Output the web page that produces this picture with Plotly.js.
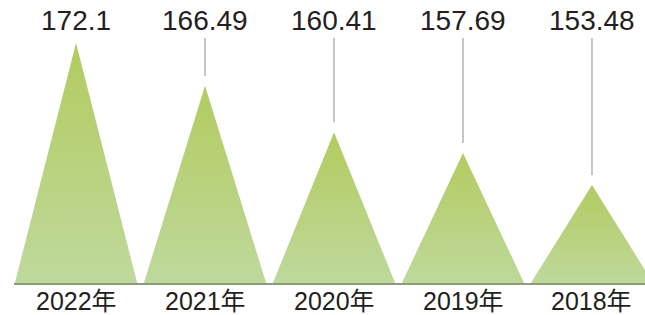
<!DOCTYPE html>
<html>
<head>
<meta charset="utf-8">
<script src="https://cdn.plot.ly/plotly-3.0.1.min.js"></script>
<style>html,body{margin:0;padding:0;background:#fff;}#chart{width:645px;height:315px;}</style>
</head>
<body>
<div id="chart"></div>
<script>
const categories = ["2022年", "2021年", "2020年", "2019年", "2018年"];
const values = [172.1, 166.49, 160.41, 157.69, 153.48];
const valueLabels = ["172.1", "166.49", "160.41", "157.69", "153.48"];

const yMin = 140.63, yMax = 177.74;
const halfW = 0.474;
const font = "Liberation Sans, Arial, 'Noto Sans CJK SC', sans-serif";
const plotH = 283;

const traces = [];
values.forEach((v, i) => {
  traces.push({
    type: "scatter", mode: "lines",
    x: [i - halfW, i, i + halfW, i - halfW],
    y: [yMin, v, yMin, yMin],
    fill: "toself",
    fillgradient: {type: "vertical", colorscale: [[0, "#bed99c"], [1, "#b3cb5f"]]},
    line: {width: 0, color: "rgba(0,0,0,0)"},
    hoverinfo: "skip", showlegend: false
  });
});
// leader lines (from label down toward peak)
const lineTop = yMax - 38 / 7.626;
values.forEach((v, i) => {
  if (v + 1.3 < lineTop) {
    traces.push({
      type: "scatter", mode: "lines",
      x: [i, i], y: [lineTop, v + 1.3],
      line: {width: 1, color: "#8c8c8c"},
      hoverinfo: "skip", showlegend: false
    });
  }
});

const annotations = values.map((v, i) => ({
  x: i, xref: "x", y: 1 - 20 / plotH, yref: "paper",
  text: valueLabels[i], showarrow: false,
  xanchor: "center", yanchor: "middle",
  font: {family: font, size: 28, color: "#231f20"}
})).concat(categories.map((c, i) => ({
  x: i, xref: "x", y: -18 / plotH, yref: "paper",
  text: c, showarrow: false,
  xanchor: "center", yanchor: "middle",
  font: {family: font, size: 25, color: "#231f20"}
})));

const layout = {
  width: 645, height: 315,
  margin: {l: 14, r: 0, t: 0, b: 32},
  paper_bgcolor: "#ffffff", plot_bgcolor: "#ffffff",
  showlegend: false,
  xaxis: {
    range: [-0.481, 4.411], tickvals: [0, 1, 2, 3, 4], showticklabels: false,
    showgrid: false, zeroline: false, showline: true, linecolor: "#8d9a82", linewidth: 2,
    ticks: "", fixedrange: true
  },
  yaxis: {
    range: [yMin, yMax], visible: false, showgrid: false, zeroline: false, fixedrange: true
  },
  annotations: annotations
};

Plotly.newPlot("chart", traces, layout, {displayModeBar: false, staticPlot: true});
</script>
</body>
</html>
